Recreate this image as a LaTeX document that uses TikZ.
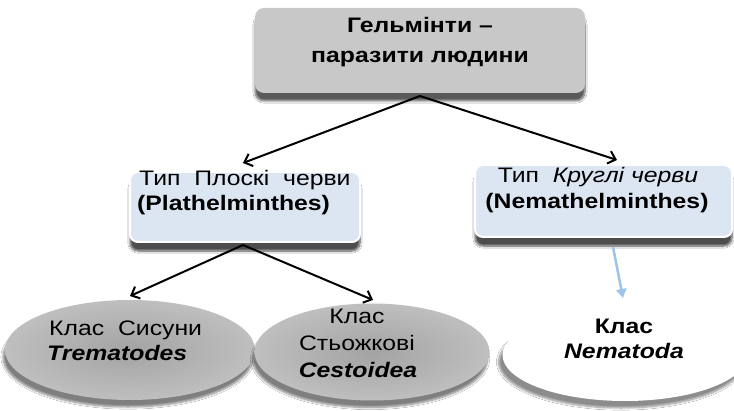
\documentclass[tikz,border=0pt]{standalone}
\usepackage{fontspec}
\setmainfont{Liberation Sans}[FakeStretch=1.18]
\usetikzlibrary{arrows.meta,shapes.geometric,shadows.blur}
\definecolor{boxgray}{HTML}{C8C8C8}
\definecolor{boxblue}{HTML}{DCE6F2}
\definecolor{ellgray}{HTML}{A3A3A3}
\definecolor{arrblue}{HTML}{9DC3E6}
\begin{document}
\begin{tikzpicture}[x=1pt,y=-1pt,
  txt/.style={font=\fontsize{21}{25}\selectfont, inner sep=0pt, anchor=base},
  txtl/.style={txt, anchor=base west},
  topbox/.style={draw=none, fill=boxgray, rounded corners=9pt, minimum width=330pt, minimum height=85pt,
     blur shadow={shadow xshift=0pt, shadow yshift=-8pt, shadow blur steps=8, shadow opacity=65}},
  bluebox/.style={draw=white, line width=2pt, fill=boxblue, rounded corners=8pt,
     blur shadow={shadow xshift=0pt, shadow yshift=-9pt, shadow blur steps=8, shadow opacity=70}},
  grayell/.style={ellipse, draw=none, inner sep=0pt, shading=radial, inner color=ellgray, outer color=ellgray!70,
     blur shadow={shadow xshift=-2pt, shadow yshift=-7pt, shadow blur steps=8, shadow opacity=50}},
  whiteell/.style={ellipse, draw=none, fill=white, inner sep=0pt,
     blur shadow={shadow xshift=-4pt, shadow yshift=-7pt, shadow blur steps=8, shadow opacity=45}},
  arr/.style={line width=2pt, -{Straight Barb[length=7pt,width=13pt,line width=2pt]}},
  barr/.style={line width=2.5pt, draw=arrblue, -{Triangle[length=9pt,width=10pt]}}
]
\useasboundingbox (0,0) rectangle (734,411);
\fill[white] (0,0) rectangle (734,411);

% shapes
\node[topbox] (top) at (420,50.5) {};
\node[bluebox, minimum width=230pt, minimum height=70pt] (plat) at (245,207) {};
\node[bluebox, minimum width=257pt, minimum height=72pt] (nem) at (603.5,201) {};
\node[grayell, minimum width=250pt, minimum height=100pt] (trem) at (130,350) {};
\node[grayell, minimum width=235pt, minimum height=97pt] (cest) at (372,352) {};
\node[whiteell, minimum width=245pt, minimum height=92pt] (nema) at (625,355) {};

% texts
\node[txt] (t1) at (420,33) {\bfseries Гельмінти –};
\node[txt] (t2) at (420,63) {\bfseries паразити людини};
\node[txtl] (p1) at (139,186) {Тип~ Плоскі~ черви};
\node[txtl] (p2) at (137,211) {\bfseries (Plathelminthes)};
\node[txt] (n1) at (598,183) {Тип~ \itshape Круглі черви};
\node[txt] (n2) at (597,209) {\bfseries (Nemathelminthes)};
\node[txtl] (e1) at (49,336) {Клас~ Сисуни};
\node[txtl] (e2) at (47,361) {\bfseries\itshape Trematodes};
\node[txt] (c1) at (357,324) {Клас};
\node[txt] (c2) at (357,351) {Стьожкові};
\node[txt] (c3) at (358,378) {\bfseries\itshape Cestoidea};
\node[txt] (m1) at (624,334) {\bfseries Клас};
\node[txt] (m2) at (624,359) {\bfseries\itshape Nematoda};

% connectors
\coordinate (ta) at (420,96);
\coordinate (pa) at (243,245);
\coordinate (na) at (613,247);
\coordinate (pt) at (243,163);
\coordinate (nt) at (617,160);
\coordinate (tt) at (130,296);
\coordinate (ct) at (373,300);
\coordinate (mt) at (623,298);
\draw[arr] (ta) -- (pt);
\draw[arr] (ta) -- (nt);
\draw[arr] (pa) -- (tt);
\draw[arr] (pa) -- (ct);
\draw[barr] (na) -- (mt);
\end{tikzpicture}
\end{document}
